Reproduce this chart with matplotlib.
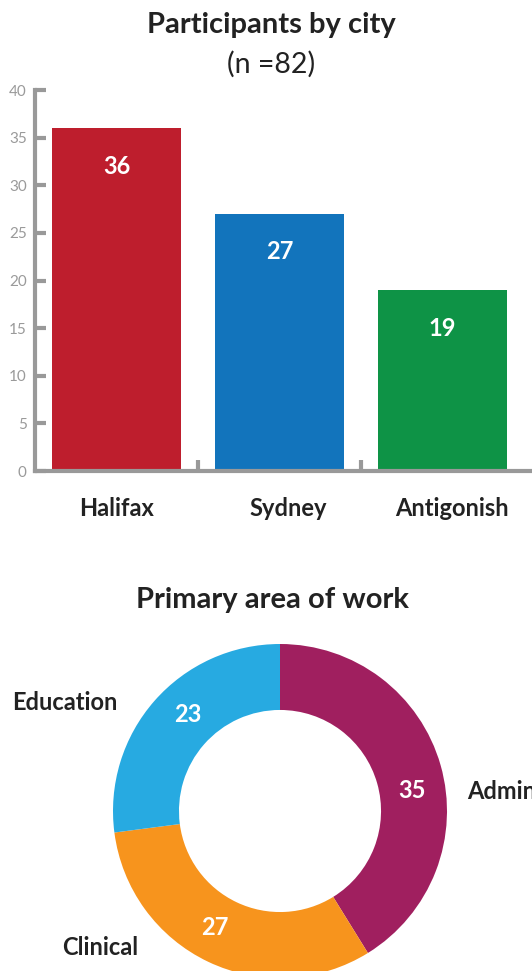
import matplotlib
matplotlib.use("Agg")
import matplotlib.pyplot as plt
import matplotlib.transforms as mtransforms
import numpy as np

plt.rcParams['font.family'] = ['Lato', 'DejaVu Sans']

# Data
cities = ["Halifax", "Sydney", "Antigonish"]
city_counts = [36, 27, 19]
city_colors = ["#BE1E2D", "#1274BC", "#0E9346"]
y_ticks = [0, 5, 10, 15, 20, 25, 30, 35, 40]

areas = ["Admin", "Clinical", "Education"]
area_counts = [35, 27, 23]
area_colors = ["#A01F5F", "#F7941D", "#27AAE1"]

W, H = 532, 971
fig = plt.figure(figsize=(W / 100, H / 100), dpi=100)
fig.patch.set_facecolor("white")

def fx(px):
    return px / W

def fy(py):
    return 1 - py / H

# ---------- Bar chart ----------
ax = fig.add_axes([fx(35), fy(471), 1 - fx(35), fy(90) - fy(471)])
x = np.arange(len(cities))
bars = ax.bar(x, city_counts, width=0.79, color=city_colors, zorder=2)
ax.set_xlim(-0.5, 2.55)
ax.set_ylim(0, 40)
ax.set_yticks(y_ticks)
ax.set_yticklabels([str(t) for t in y_ticks], color="#9a9a9a", fontsize=11)
ax.set_xticks(x)
ax.set_xticklabels(cities, fontsize=17, fontweight="bold", color="#222222")
ax.tick_params(axis="x", length=0, pad=19)
ax.set_xticks([0.5, 1.5], minor=True)
ax.tick_params(axis="x", which="minor", direction="in", length=8, width=3, color="#999999")
ax.tick_params(axis="y", direction="in", length=8, width=3, color="#999999", pad=6)
for s in ["top", "right"]:
    ax.spines[s].set_visible(False)
for s in ["left", "bottom"]:
    ax.spines[s].set_color("#999999")
    ax.spines[s].set_linewidth(3)
# small horizontal nudges of the category labels, as in the reference
for lbl, dx in zip(ax.get_xticklabels(), [0, 9, 10]):
    lbl.set_transform(lbl.get_transform() + mtransforms.ScaledTranslation(dx / 100, 0, fig.dpi_scale_trans))
for b, v in zip(bars, city_counts):
    ax.annotate(str(v), (b.get_x() + b.get_width() / 2, v), xytext=(0, -38),
                textcoords="offset pixels",
                ha="center", va="center", color="white", fontsize=17, fontweight="bold")

fig.text(fx(271), fy(25), "Participants by city", ha="center", va="center",
         fontsize=21, fontweight="bold", color="#222222")
fig.text(fx(271), fy(64), "(n =82)", ha="center", va="center",
         fontsize=20.5, color="#222222")

# ---------- Donut chart ----------
cx, cy, R = 280, 811, 167
top_px, bot_px = 560, 971
ax2 = fig.add_axes([0, fy(bot_px), 1, fy(top_px) - fy(bot_px)])
wedges, _ = ax2.pie(area_counts, colors=area_colors, startangle=90, counterclock=False,
                    radius=1, wedgeprops=dict(width=0.395, edgecolor="none"))
ax2.set_xlim((0 - cx) / R, (W - cx) / R)
ax2.set_ylim(-(bot_px - cy) / R, (cy - top_px) / R)
ax2.set_aspect("auto")
ax2.axis("off")

label_r = 0.8
offsets = {"Admin": -7, "Clinical": -4, "Education": -5}
for w, v, name in zip(wedges, area_counts, areas):
    mid = (w.theta1 + w.theta2) / 2 + offsets[name]
    ax2.text(label_r * np.cos(np.radians(mid)), label_r * np.sin(np.radians(mid)), str(v),
             ha="center", va="center", color="white", fontsize=17, fontweight="bold")

ax2.text((467 - cx) / R, (cy - 791) / R, "Admin", ha="left", va="center",
         fontsize=17, fontweight="bold", color="#222222", clip_on=False)
ax2.text((65 - cx) / R, (cy - 702) / R, "Education", ha="center", va="center",
         fontsize=17, fontweight="bold", color="#222222")
ax2.text((100 - cx) / R, (cy - 947) / R, "Clinical", ha="center", va="center",
         fontsize=17, fontweight="bold", color="#222222")

fig.text(fx(272), fy(600), "Primary area of work", ha="center", va="center",
         fontsize=21, fontweight="bold", color="#222222")

fig.savefig("out.png", dpi=100, facecolor="white")
